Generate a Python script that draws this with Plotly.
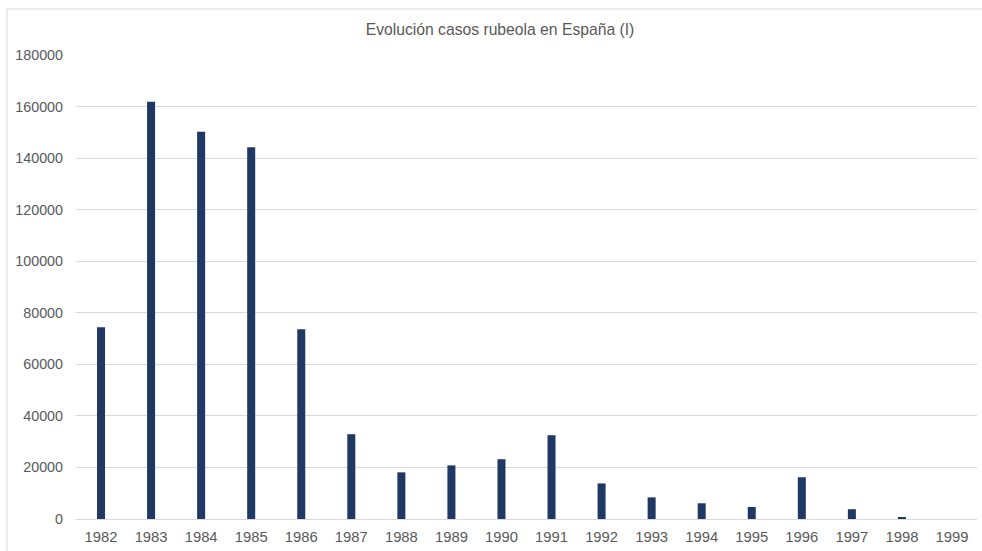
import plotly.graph_objects as go

# Rubella cases reported in Spain per year
years = [str(y) for y in range(1982, 2000)]
cases = [74400, 161900, 150200, 144200, 73600, 32900, 18100, 20800, 23200,
         32500, 13800, 8400, 6100, 4650, 16200, 3800, 700, 0]

y_ticks = list(range(0, 180001, 20000))

W, H = 982, 551
ML, MR, MT, MB = 76, 5, 55, 32
plot_w = W - ML - MR
plot_h = H - MT - MB

TEXT = "#595959"
GRID = "#d9d9d9"
BAR = "#203864"

fig = go.Figure(
    go.Bar(
        x=years,
        y=cases,
        marker=dict(color=BAR, line=dict(width=0)),
        hoverinfo="x+y",
    )
)

# outer chart frame
fig.add_shape(
    type="rect", xref="paper", yref="paper",
    x0=(7 - ML) / plot_w, x1=(W + 20 - ML) / plot_w,
    y0=(MT + plot_h - (H + 20)) / plot_h, y1=(MT + plot_h - 9) / plot_h,
    line=dict(color=GRID, width=1), fillcolor="rgba(0,0,0,0)", layer="below",
)

fig.update_layout(
    width=W, height=H,
    margin=dict(l=ML, r=MR, t=MT, b=MB, pad=0),
    paper_bgcolor="white", plot_bgcolor="white",
    bargap=0.84,
    showlegend=False,
    font=dict(family="Liberation Sans, Arial, sans-serif", size=14.5, color=TEXT),
    title=dict(
        text="Evolución casos rubeola en España (I)",
        x=500 / W, xanchor="center", xref="container",
        y=1 - 30 / H, yanchor="middle", yref="container",
        font=dict(size=15.7, color=TEXT),
    ),
    xaxis=dict(
        type="category", showgrid=False, zeroline=False,
        showline=True, linecolor=GRID, linewidth=1,
        ticks="", tickfont=dict(size=14.8, color=TEXT),
        ticklabelstandoff=4,
    ),
    yaxis=dict(
        range=[0, 180000], tickvals=y_ticks,
        ticktext=[str(v) for v in y_ticks],
        showgrid=True, gridcolor=GRID, gridwidth=1,
        zeroline=False, showline=False, ticks="",
        tickfont=dict(size=14.3, color=TEXT),
        ticklabelstandoff=12,
    ),
)

fig.write_html("out.html")
